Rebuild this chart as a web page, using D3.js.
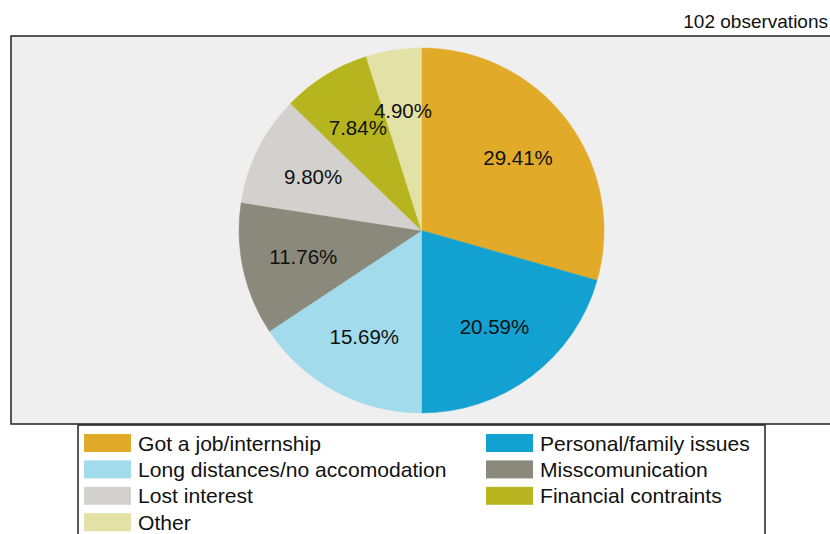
<!DOCTYPE html>
<html>
<head>
<meta charset="utf-8">
<script src="https://cdn.jsdelivr.net/npm/d3@7"></script>
<style>
html,body{margin:0;padding:0;background:#fff;}
svg{display:block;font-family:Arial,"Liberation Sans",sans-serif;}
</style>
</head>
<body>
<div id="chart"></div>
<script>
const categories = ["Got a job/internship","Personal/family issues","Long distances/no accomodation","Misscomunication","Lost interest","Financial contraints","Other"];
const counts = [30, 21, 16, 12, 10, 8, 5];
const percentLabels = ["29.41%","20.59%","15.69%","11.76%","9.80%","7.84%","4.90%"];
const colors = ["#E1AA29","#12A1D1","#A2DBEC","#8B897B","#D3D1CD","#B6B51F","#E2E1A6"];
const note = "102 observations";

const W = 830, H = 534;
const svg = d3.select("#chart").append("svg").attr("width", W).attr("height", H);

// panel
svg.append("rect").attr("x", 11).attr("y", 36).attr("width", 840).attr("height", 388)
  .attr("fill", "#EFEFEF").attr("stroke", "#222").attr("stroke-width", 1.5);

svg.append("text").attr("x", 828).attr("y", 28).attr("text-anchor", "end")
  .attr("font-size", 19).attr("fill", "#111").text(note);

const cx = 421.5, cy = 230.5, r = 182.5;
const pie = d3.pie().sort(null).value(d => d)(counts);
const arc = d3.arc().innerRadius(0).outerRadius(r);
const labelArc = d3.arc().innerRadius(121).outerRadius(121);
const color = d3.scaleOrdinal().domain(categories).range(colors);

const g = svg.append("g").attr("transform", `translate(${cx},${cy})`);
g.selectAll("path").data(pie).join("path")
  .attr("d", arc)
  .attr("fill", (d, i) => color(categories[i]))
  .attr("stroke", (d, i) => color(categories[i]))
  .attr("stroke-width", 0.5);

g.selectAll("text").data(pie).join("text")
  .attr("transform", d => `translate(${labelArc.centroid(d)})`)
  .attr("text-anchor", "middle")
  .attr("dy", "0.36em")
  .attr("font-size", 20.5)
  .attr("fill", "#111")
  .text((d, i) => percentLabels[i]);

// legend
const lg = svg.append("g");
lg.append("rect").attr("x", 78).attr("y", 425).attr("width", 687).attr("height", 140)
  .attr("fill", "#fff").attr("stroke", "#222").attr("stroke-width", 1.5);

const colX = [84, 486];
const rowY0 = 434, rowStep = 26.4;
categories.forEach((c, i) => {
  const col = i % 2, row = Math.floor(i / 2);
  const x = colX[col], y = rowY0 + row * rowStep;
  lg.append("rect").attr("x", x).attr("y", y).attr("width", 47).attr("height", 18)
    .attr("fill", color(c));
  lg.append("text").attr("x", x + 54).attr("y", y + 9).attr("dy", "0.36em")
    .attr("font-size", 21.1).attr("fill", "#111").text(c);
});
</script>
</body>
</html>
